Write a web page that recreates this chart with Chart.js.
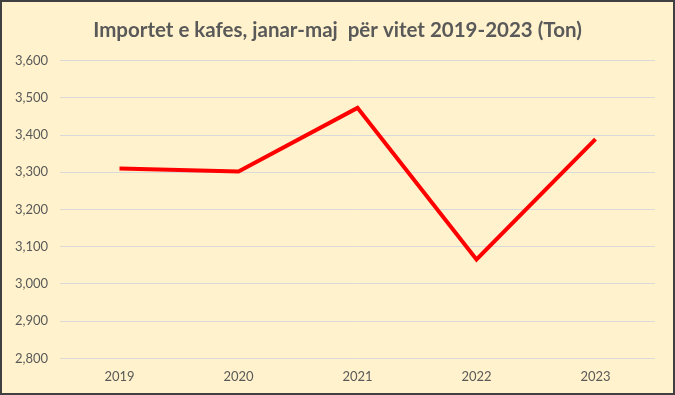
<!DOCTYPE html>
<html lang="sq">
<head>
  <meta charset="UTF-8">
  <title>Importet e kafes</title>
  <script src="https://cdn.jsdelivr.net/npm/chart.js"></script>
  <style>
    html, body {
      margin: 0;
      padding: 0;
      background: #ffffff;
    }
    #chartContainer {
      position: relative;
      width: 675px;
      height: 395px;
      box-sizing: border-box;
      border: 2px solid #404040;
      background-color: #fff2cc;
    }
  </style>
</head>
<body>
  <div id="chartContainer">
    <canvas id="importChart"></canvas>
  </div>

  <script>
    const years = ['2019', '2020', '2021', '2022', '2023'];
    const tons = [3310, 3302, 3473, 3066, 3389];
    const yTicks = { min: 2800, max: 3600, step: 100 };

    const ctx = document.getElementById('importChart').getContext('2d');

    new Chart(ctx, {
      type: 'line',
      data: {
        labels: years,
        datasets: [{
          label: 'Ton',
          data: tons,
          borderColor: '#ff0000',
          borderWidth: 4,
          pointRadius: 0,
          tension: 0,
          fill: false
        }]
      },
      options: {
        responsive: true,
        maintainAspectRatio: false,
        animation: false,
        layout: {
          padding: { left: 9, right: 9, top: 8, bottom: 5 }
        },
        plugins: {
          legend: { display: false },
          tooltip: { enabled: false },
          title: {
            display: true,
            text: 'Importet e kafes, janar-maj  për vitet 2019-2023 (Ton)',
            color: '#595959',
            font: { family: 'Lato', size: 20.5, weight: 'bold' },
            padding: { top: 8, bottom: 18 }
          }
        },
        scales: {
          x: {
            offset: true,
            grid: { display: false },
            border: { display: false },
            ticks: {
              color: '#595959',
              font: { family: 'Lato', size: 13 },
              padding: 3
            }
          },
          y: {
            min: yTicks.min,
            max: yTicks.max,
            grid: { color: '#d9d9d9', lineWidth: 1, drawTicks: false },
            border: { display: false },
            ticks: {
              stepSize: yTicks.step,
              color: '#595959',
              font: { family: 'Lato', size: 13 },
              padding: 12,
              callback: v => v.toLocaleString('en-US')
            },
            afterFit: scale => { scale.width = 49; }
          },
          // empty right-hand axis, only keeps the plot clear of the right edge
          yRight: {
            position: 'right',
            grid: { display: false },
            border: { display: false },
            ticks: { display: false },
            afterFit: scale => { scale.width = 9; }
          }
        }
      }
    });
  </script>
</body>
</html>
